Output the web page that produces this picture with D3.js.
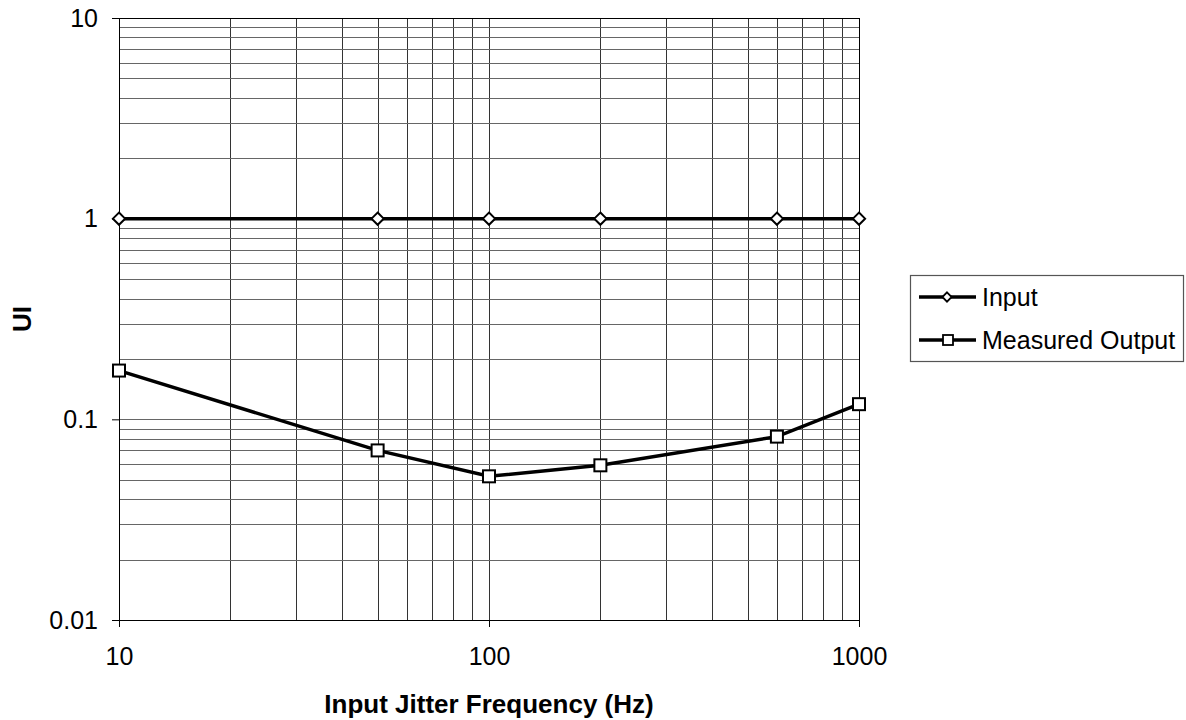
<!DOCTYPE html>
<html lang="en">
<head>
  <meta charset="utf-8">
  <title>Jitter transfer</title>
  <script src="https://d3js.org/d3.v7.min.js"></script>
  <style type="text/css">
    body { margin: 0; background: #fff; }
    text { font-family: "Liberation Sans", Arial, sans-serif; fill: #000; }
  </style>
</head>
<body>
<div id="chart"></div>
<script>

// data
var freqs = [10, 50, 100, 200, 600, 1000];
var inputUI = [1, 1, 1, 1, 1, 1];
var outputUI = [0.175, 0.070, 0.052, 0.059, 0.082, 0.119];
var seriesNames = ["Input", "Measured Output"];
var xTicks = [10, 100, 1000];
var yTicks = [0.01, 0.1, 1, 10];

var width = 1186, height = 720;
var plotL = 119, plotR = 859, plotT = 18, plotB = 620;

var svg = d3.select("#chart").append("svg")
  .attr("width", width)
  .attr("height", height);

var x = d3.scaleLog().domain([10, 1000]).range([plotL, plotR]);
var y = d3.scaleLog().domain([0.01, 10]).range([plotB, plotT]);

// minor + major grid values, 1..9 in each decade
function decadeSteps(lo, hi) {
  var out = [];
  for (var d = lo; d < hi * 0.999; d *= 10) {
    for (var k = 1; k < 10; k++) out.push(d * k);
  }
  out.push(hi);
  return out;
}

var grid = svg.append("g").attr("shape-rendering", "crispEdges");

grid.selectAll("line.v")
  .data(decadeSteps(10, 1000))
  .enter().append("line")
  .attr("class", "v")
  .attr("x1", function(d) { return Math.round(x(d)) + 0.5; })
  .attr("x2", function(d) { return Math.round(x(d)) + 0.5; })
  .attr("y1", plotT)
  .attr("y2", plotB)
  .style("stroke", "#333")
  .style("stroke-width", 1);

grid.selectAll("line.h")
  .data(decadeSteps(0.01, 10))
  .enter().append("line")
  .attr("class", "h")
  .attr("x1", plotL)
  .attr("x2", plotR)
  .attr("y1", function(d) { return Math.round(y(d)) + 0.5; })
  .attr("y2", function(d) { return Math.round(y(d)) + 0.5; })
  .style("stroke", "#666")
  .style("stroke-width", 1.5);

// plot frame
svg.append("rect")
  .attr("x", plotL + 0.5)
  .attr("y", plotT + 0.5)
  .attr("width", plotR - plotL)
  .attr("height", plotB - plotT)
  .attr("shape-rendering", "crispEdges")
  .style("fill", "none")
  .style("stroke", "#000");

// axes
var yAxis = d3.axisLeft(y)
  .tickValues(yTicks)
  .tickFormat(function(d) { return String(d); })
  .tickSizeInner(7)
  .tickSizeOuter(0)
  .tickPadding(14);

var xAxis = d3.axisBottom(x)
  .tickValues(xTicks)
  .tickFormat(function(d) { return String(d); })
  .tickSizeInner(7)
  .tickSizeOuter(0)
  .tickPadding(20);

var gy = svg.append("g")
  .attr("transform", "translate(" + plotL + ",0)")
  .call(yAxis);
var gx = svg.append("g")
  .attr("transform", "translate(0," + plotB + ")")
  .call(xAxis);

[gx, gy].forEach(function(g) {
  g.selectAll("text")
    .style("font-family", "'Liberation Sans', Arial, sans-serif")
    .style("font-size", "25px");
  g.select(".domain").style("stroke", "#000");
  g.selectAll(".tick line").style("stroke", "#000");
});

// axis titles
svg.append("text")
  .attr("x", (plotL + plotR) / 2)
  .attr("y", 713)
  .attr("text-anchor", "middle")
  .style("font-size", "26px")
  .style("font-weight", "bold")
  .text("Input Jitter Frequency (Hz)");

svg.append("text")
  .attr("transform", "translate(31," + ((plotT + plotB) / 2) + ") rotate(-90)")
  .attr("text-anchor", "middle")
  .style("font-size", "26px")
  .style("font-weight", "bold")
  .text("UI");

// series
var line = d3.line()
  .x(function(d) { return x(d[0]); })
  .y(function(d) { return y(d[1]); });

var inputPts = d3.zip(freqs, inputUI);
var outputPts = d3.zip(freqs, outputUI);

svg.append("path")
  .attr("d", line(inputPts))
  .style("fill", "none")
  .style("stroke", "#000")
  .style("stroke-width", 3.5);

svg.append("path")
  .attr("d", line(outputPts))
  .style("fill", "none")
  .style("stroke", "#000")
  .style("stroke-width", 3.5);

var diamond = d3.symbol().type(d3.symbolDiamond2).size(95);

svg.selectAll("path.dia")
  .data(inputPts)
  .enter().append("path")
  .attr("class", "dia")
  .attr("d", diamond)
  .attr("transform", function(d) { return "translate(" + x(d[0]) + "," + y(d[1]) + ")"; })
  .style("fill", "#fff")
  .style("stroke", "#000")
  .style("stroke-width", 2);

svg.selectAll("rect.sq")
  .data(outputPts)
  .enter().append("rect")
  .attr("class", "sq")
  .attr("x", function(d) { return x(d[0]) - 6; })
  .attr("y", function(d) { return y(d[1]) - 6; })
  .attr("width", 12)
  .attr("height", 12)
  .style("fill", "#fff")
  .style("stroke", "#000")
  .style("stroke-width", 2);

// legend
var legend = svg.append("g");
legend.append("rect")
  .attr("x", 910.5)
  .attr("y", 275.5)
  .attr("width", 273)
  .attr("height", 86)
  .style("fill", "#fff")
  .style("stroke", "#555")
  .style("stroke-width", 1.2);

var rows = legend.selectAll("g.row")
  .data(seriesNames)
  .enter().append("g")
  .attr("class", "row")
  .attr("transform", function(d, i) { return "translate(0," + (297 + i * 43) + ")"; });

rows.append("line")
  .attr("x1", 919).attr("x2", 976)
  .attr("y1", 0).attr("y2", 0)
  .style("stroke", "#000")
  .style("stroke-width", 3.5);

rows.filter(function(d, i) { return i === 0; })
  .append("path")
  .attr("d", d3.symbol().type(d3.symbolDiamond2).size(55))
  .attr("transform", "translate(947,0)")
  .style("fill", "#fff")
  .style("stroke", "#000")
  .style("stroke-width", 1.8);

rows.filter(function(d, i) { return i === 1; })
  .append("rect")
  .attr("x", 943).attr("y", -5)
  .attr("width", 10).attr("height", 10)
  .style("fill", "#fff")
  .style("stroke", "#000")
  .style("stroke-width", 1.8);

rows.append("text")
  .attr("x", 982)
  .attr("y", 0)
  .attr("dy", "0.35em")
  .style("font-size", "25px")
  .text(function(d) { return d; });

</script>
</body>
</html>
